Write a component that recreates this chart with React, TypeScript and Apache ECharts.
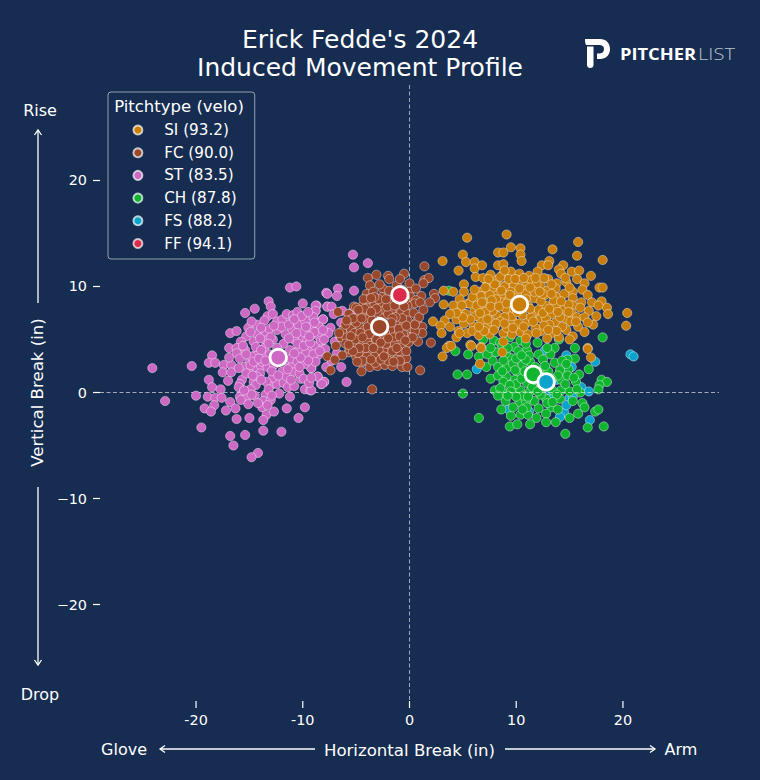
import React, { useEffect, useRef } from "react";
import * as echarts from "echarts";

type Pt = [number, number];

const BG = "#162c51";
const xTicks = [-20, -10, 0, 10, 20];
const yTicks = [-20, -10, 0, 10, 20];
const legendOrder = ["SI (93.2)", "FC (90.0)", "ST (83.5)", "CH (87.8)", "FS (88.2)", "FF (94.1)"];
const pitchColors = ["#c97f0a", "#9b472b", "#cd68c4", "#0fb52f", "#0aa3cc", "#dc2c4c"];
const pitchLayer = [5, 7, 6, 3, 2, 8];
const meanPoints: Pt[] = [[10.3, 8.3], [-2.8, 6.2], [-12.3, 3.3], [11.6, 1.7], [12.8, 1.0], [-0.9, 9.2]];

const siPoints: Pt[] = [
  [5.4,14.6],[9.1,14.9],[9.5,13.7],[10.4,13.6],[8.3,13.2],[8.8,13.2],[10.4,13],[10.5,12.4],[13.4,13.5],[15.8,14.2],[15.7,12.9],[18.1,12.5],
  [5,13],[3.1,12.4],[5.3,12.3],[4.6,11.5],[6.1,12.3],[6.1,11.7],[6.8,12],[8.3,12],[8.8,12.1],[12.4,12],[13.1,12.4],[13,12],[14.4,12],[14,11.6],
  [12,11.4],[15.2,11.4],[15.9,11.5],[14.2,11.2],[15.7,10.7],[17,11],[7.6,11.1],[8.8,11.2],[9.5,11.4],[10.3,11.2],[11.2,11],[6.2,10.9],[5.1,10.2],
  [10.2,10.6],[11.4,10.6],[13,10.7],[14.7,10.4],[16.4,10.3],[17.8,9.9],[18.1,9.9],[7.3,10.3],[8.3,9.9],[9,10.1],[9.8,10.1],[10.9,10],[12.3,10.1],
  [13.8,10.3],[13.7,9.8],[6.5,9.5],[7.4,9.5],[3.2,9.6],[4.1,9.5],[5.1,9.5],[15.3,9.5],[16.2,9.7],[10.6,9.7],[11.5,9.6],[15.3,8.9],[4.7,8.8],[6.3,8.9],
  [8,9.3],[8.7,8.9],[11.7,8.9],[12.7,9.2],[13.8,9],[16.7,9.2],[17.1,8.5],[18,8.6],[16.1,8.5],[15.3,8.2],[3.2,8.3],[5.5,8.4],[7.2,8.4],[8.6,8.5],
  [12.8,8.2],[14.4,7.8],[18.5,8],[16.8,7.7],[18.6,7.4],[20.4,7.5],[20.3,6.3],[4.1,8.2],[4.8,7.7],[6.1,7.8],[7.9,7.8],[9.2,7.6],[11.6,7.5],[13.3,7.4],
  [15.2,7.5],[2.2,6.7],[3.3,6.8],[6.7,6.8],[7.4,7.3],[9.7,6.7],[11,6.6],[12.3,7],[13.7,6.6],[14.7,6.9],[17.5,7.2],[17.2,6.4],[15.8,6.2],[2.9,6.3],
  [3.8,6.2],[6,6.2],[8,6.2],[10.4,5.7],[12.3,5.8],[14.7,5.9],[16.4,5.7],[3,5.6],[4.4,5.2],[4.6,5.8],[5.4,5.6],[7.2,6.1],[8.8,5.6],[13.3,5.6],[15.3,5.3],
  [15,5],[3.7,4.4],[5.7,4.5],[6.7,4.3],[8.8,4.8],[16.7,4.2],[5.8,4.4],[6.7,4.2],[8.7,3.8],[6.6,2.7],[16.7,4.1],[17,3.3],[4.7,5.6],[3.5,4.2],[3.1,3.4],[3.9,4.4],
  [7.8,9.9],[8.9,10],[9.5,9.5],[10.1,9.2],[10.9,9.3],[8.1,8.8],[9.3,8.7],[10.9,8.8],[11.1,8.2],[12.3,8.6],[12.9,9.6],[13.3,10.2],[14.5,9.3],[14.9,8.3],
  [13.7,8.2],[12.1,7.8],[9,7.9],[8.3,7.2],[9.6,7.2],[10.6,7.3],[12.8,6.9],[13.1,6.4],[10.2,6.5],[11.8,6.1],[9.1,6.1],[7.6,6.7],[6.2,7.2],[5.3,7.4],
  [5.6,8.4],[6.7,9.1],[7.8,7.7],[6.9,8],[8.2,10.6],[9.3,10.7],[11.9,10.2],[12.6,10.8],[14.1,7.1],[14.3,6.2],[15.1,6.7],[15.7,7.1],[16,8],[4.4,6.9],
  [5.1,6.5],[5.9,5.8],[6.5,5.4],[7.5,5.5],[9.6,5.5],[11.1,5.5],[12.9,5.1],[14,5.2],[8,10.2],[6.9,10.8],[7.5,9.2],[8.6,9.6],[10.5,8.1],[11.7,9.5],
  [12.5,9.3],[8.9,7.1],[7.1,7.6],[6.3,8.2],[5.9,9],[4.9,8.2],[7.7,8.7],[9.9,8.9],[11.4,7.1],[12.6,6.3],[13.9,7.6],[14.9,7.6],[16.4,7.1],[9.7,6.1],[8.5,6.7],[7,5.8],
  [7.4,10.7],[8.5,10.9],[9.9,10.7],[10.7,10.8],[11.8,10.8],[7.1,9.9],[6.1,9.7],[6.8,8.5],[7.6,8.1],[8.4,8.1],[9.1,8.4],[9.8,7.9],[10.1,7.6],[11.3,7.9],[12.5,7.5],
  [13.1,7.9],[13.5,8.7],[11.3,9.9],[12.2,9.5],[13.3,9.3],[14.2,8.6],[15,9.9],[14.6,10.8],[8.1,6.5],[8.9,6.5],[10.7,6.2],[11.6,6.7],[11.9,5.6],[7.9,5.9],[6.5,6.2],
  [5.7,6.9],[5,7.1],[4.4,7.5],[3.8,7.4],[6.6,7.5],[7.3,6.9],[10.9,5.1],[13,5.9],[13.8,5.8],[15.6,6.7],[16.7,6.6],[17.7,8.2],[9.4,9.2],[10.3,9.8],[8.9,11.5]
];

const fcPoints: Pt[] = [
  [-3.9,10.8],[-3.1,11.1],[-2,11],[-1.9,10.7],[-0.5,11.2],[-3.7,10.1],[0,10.3],[1.4,11.9],[1.4,10.6],[1.8,10.8],[1.3,10.3],[-4,9.3],[-3.4,9.5],
  [-2.5,9.8],[-1.2,10.1],[0,9.5],[1.1,9.1],[2.3,9.3],[2.4,8.9],[-2.6,9],[0.1,9],[0.6,8.7],[0.5,8.4],[-5.2,8.1],[-4.4,8.2],[-3.8,8.2],[-3.3,8.4],
  [-2.5,8.4],[-1.7,8.5],[-1,8],[-0.2,8.2],[-6.7,7.6],[-5.7,7.4],[-4.7,7.3],[-3.7,7.1],[-2.5,7.7],[-1.7,7.7],[-0.8,7.5],[-0.2,7.4],[-4.4,7.5],[-5.6,6.8],
  [-4.7,6.2],[-1.3,6.5],[-0.2,6.8],[0.7,6.7],[1.2,6.2],[-6.3,5.8],[-5.5,6],[-4.2,5.9],[-1.2,5.6],[0.1,6.1],[1.2,5.6],[-6.4,5.2],[-4.7,5.1],[-3.7,5],
  [-2.5,5.2],[-1.7,4.9],[-0.9,4.8],[-0.1,5.2],[0.8,4.8],[2,4.7],[-6.9,4.4],[-5.5,4.7],[-4.5,4.6],[-3,4.5],[-1.9,4.2],[-0.5,4.4],[-5.7,3.8],[-4.5,3.9],
  [-3.6,3.8],[-2.4,3.9],[-0.8,3.7],[-6.3,3.5],[-7.7,3.4],[-7,3.1],[-5,3.4],[-3,3.3],[-1.9,3.4],[-0.3,3.2],[-7.4,2.1],[-4.5,2.8],[-3.7,2.4],[-3,2.5],
  [-2.3,2.6],[-1.6,2.5],[-0.7,2.4],[-0.2,2.4],[-4.5,2],[1,2.1],[-3.5,0.3],
  [-5,6.6],[-4.1,6.9],[-3.3,6.4],[-2.1,6.2],[-1.8,5.9],[-2.6,7],[-3,7.6],[-3.4,5.4],[-4,4.9],[-5,4.4],[-5.2,5.6],[-3.9,6.2],[-0.6,6.2],[-0.7,7],[-1.3,7.1],
  [-2,7.4],[-2.3,5.6],[-1.4,4.5],[-2.9,4],[-3.3,3.4],[-4,3.4],[-4.8,3.7],[-2,3],[-1.2,3.1],[-3.7,4.4],[-1,3.9],[-5.9,5.2],[-6,6.4],[-5,8],[-3.9,8.8],
  [-2.9,8.8],[-1.5,9.4],[-0.4,8.8],[-1.1,8.7],[-3.3,9],[-4.2,7.9],[-2.1,8.1],[-0.6,5.5],[0.5,5.8],[-0.1,4.7],[0.4,7.5],[0.9,7.1],[-0.3,3.9],[-5.6,4.1],
  [-6,4.6],[-4.4,3],[-3.2,2.8],[-2.7,3.1],[-1.6,3.9],[-5.3,7],[-3.5,6.8],[-2.8,5.8],[-1.5,5.2],[-4.6,5.6],[-3.1,5],[-2.2,4.6],[-1,6],[0.3,5.2],[-5.1,5],[-4.1,4.2],[-1.4,8.2],[-3.1,7.9],
  [-4.8,7.8],[-3.6,7.6],[-2.2,8.8],[-1.9,9.6],[-0.7,9.7],[0.6,9.8],[-0.5,8.1],[-1.6,7],[-2.9,6.6],[-3.8,5.5],[-4.4,5.2],[-5.5,5.3],[-5.9,6.8],[-4.5,7],[-2.6,6.4],[-1.7,6.6],
  [-0.3,6.3],[0.5,6.4],[-0.9,5.3],[-2,5.1],[-2.7,4.7],[-3.4,4.2],[-4.7,4.2],[-5.3,3.9],[-1.2,4.2],[-0.4,4.9],[-2.4,3.4],[-3.6,3.1],[-0.9,3],[-1.5,2.9],[-4.9,2.9],[-5.7,4.5],
  [-6.6,5.6],[-4.3,8.8],[-3.6,8.9],[-2.8,10.2],[-0.9,10.7],[1,8.5],[1.3,7.8],[1.9,8.5]
];

const stPoints: Pt[] = [
  [-11.2,9.9],[-10.6,10],[-13.2,8.6],[-13,8.1],[-10,8.4],[-15.4,7.5],[-14.5,7.9],[-13.3,7.2],[-12.8,7.4],[-12.4,6.7],[-11.9,6.9],[-11.5,7.4],[-10.9,7.3],
  [-10.5,7.6],[-11,6.7],[-8.7,8.2],[-8.8,7.7],[-9,7.1],[-8.1,6.9],[-8.5,6.2],[-7.8,9.4],[-7.7,8.1],[-15.1,6.1],[-14.3,6.4],[-16.8,5.6],[-16.2,5.8],[-15.3,5.3],
  [-14.3,5.5],[-13.5,5.6],[-13.1,6],[-12.8,5],[-15.8,4.8],[-14.6,4.8],[-13.5,4.9],[-16.9,4.2],[-16.2,4.2],[-15.4,4],[-16.2,3.7],[-13.6,4.2],[-14.3,3.7],
  [-13.7,3.5],[-15,3],[-18.5,3.5],[-18.8,2.8],[-18.2,2.8],[-17.4,2.6],[-16.7,2.6],[-15.5,2.4],[-14.5,2.2],[-13.9,2.5],[-17.5,1.9],[-16.7,1.9],[-14,1.8],
  [-18.8,1.2],[-15.7,1.2],[-14.3,1.5],[-15,1.8],[-18.5,0.5],[-17.7,0.3],[-15.9,0.8],[-16,0.5],[-14.6,1],[-14.4,0.7],[-12.8,0.8],[-12.4,0.8],[-11.9,2],[-11,2.6],
  [-10.9,1.9],[-11.8,0.9],[-11.4,0.5],[-10.2,1.3],[-9.2,2.3],[-8.6,1.5],[-8,1],[-8.3,0.8],[-9.8,0.3],[-9.3,0.2],[-20,-0.3],[-18.9,-0.4],[-18.2,-0.5],[-17.6,-0.5],
  [-16.8,-0.9],[-15.9,-0.4],[-15.3,-0.6],[-14.5,-0.3],[-13.5,-0.2],[-12.2,-0.1],[-11.2,-0.4],[-13.7,-0.8],[-19.2,-1.5],[-18.3,-1.2],[-18.6,-1.8],[-17.2,-1.7],
  [-16.3,-1.5],[-13.8,-1.4],[-13.4,-2.1],[-12.7,-1.8],[-11.5,-1.5],[-9.8,-1.4],[-10.4,-2.4],[-16.2,-2.5],[-15,-2.4],[-13.7,-2.6],[-19.5,-3.3],[-13.7,-3.6],[-12,-3.7],
  [-16.8,-4.1],[-15.4,-4],[-16.5,-5],[-14.2,-5.7],[-14.8,-6.1],[-24.1,2.3],[-20.4,2.5],[-22.9,-0.8],
  [-5.3,13],[-5.2,11.8],[-3.9,12.2],[-7.7,9.3],[-6.7,9.8],[-6.8,9.1],[-5.2,9.6],[-8.8,8.2],[-7.7,8.1],[-7.3,8.1],[-8.8,7.7],[-9,7.1],[-8.1,6.9],[-7.1,7.4],[-5.5,7.5],
  [-6.4,6.6],[-8.5,6.2],[-7.4,6.1],[-9.2,6.2],[-7.6,5.6],[-9.1,5.5],[-8.5,5.3],[-8.4,4.5],[-9.4,4.3],[-8.6,3.5],[-9.2,3.4],[-9.2,2.3],[-6.4,2.4],[-7.8,2.4],[-8.6,1.5],
  [-8,1],[-8.2,0.8],[-5.9,1],[-9.2,0.2],
  [-13,5.2],[-12.4,5.9],[-11.6,5.5],[-11,6],[-10.4,6.4],[-9.8,6.8],[-9.3,6.1],[-8.9,5.7],[-10.1,5.2],[-10.8,5],[-9.6,4.9],[-8.9,4.4],[-11.8,4.6],[-12.4,4.2],[-11.2,4],
  [-10.4,4],[-9.7,3.7],[-9,3.6],[-13.1,3.6],[-14.8,3.4],[-14.4,4.3],[-13.8,2.9],[-13.3,2.4],[-12.7,2.6],[-11.7,3],[-11.1,3.2],[-10.5,2.9],[-9.8,2.7],[-8.8,2.9],[-10.3,1.8],
  [-9.9,1.3],[-11.5,1.5],[-12.8,1.4],[-13.4,1],[-15.3,1.8],[-14.9,2.6],[-15.9,3.2],[-17,1.1],[-13,-0.7],[-14.9,0.3],[-14.2,-1],[-15.8,-0.7],[-10.8,0.6],[-9.4,0.9],[-12,6.2],
  [-13.6,6.8],[-14.8,6.7],[-10.1,7.2],[-9.5,7.6],[-9.9,5.7],[-8.3,4.9],[-7.9,4.1],[-7.3,3],[-6.8,3.7],[-7,4.8],[-6.5,5.3],[-6.3,7.7],
  [-14,5.1],[-13.2,4.6],[-13.9,4],[-14.6,2.9],[-14.1,3.2],[-13.5,3],[-12.9,2],[-12.3,1.6],[-13.9,1.2],[-14.7,1.6],[-15.3,3.6],[-15.6,4.4],[-14.9,5.7],[-13.9,6.1],[-12.7,6.3],
  [-11.3,5.1],[-10.5,4.6],[-9.9,4.4],[-9.3,4.7],[-9.4,5.3],[-10.6,5.6],[-11.3,6.4],[-10.8,6.9],[-9.7,6.2],[-8.9,6.6],[-8.1,5.9],[-8,5],[-8.4,3.9],[-9.5,3],[-10.2,3.3],
  [-10.8,3.7],[-10.3,2.4],[-9.2,1.4],[-11.1,1.2],[-12.4,3],[-11.4,2.2],[-16,2.3],[-16.9,3.3],[-13.3,-1.2],[-15.1,-1.1],[-14.8,-0.2],[-15.5,0.2],[-13.2,0.3],[-12.9,-0.3]
];

const chPoints: Pt[] = [
  [4.5,1.7],[5.4,1.7],[5,-0.1],[6.5,-2.4],[5.5,3.6],[6.5,3.4],[7.2,2.4],[7.6,1.3],[7.9,4.9],[8.5,4.7],[6.9,5],[9.4,5.2],[10.4,4.9],[9.8,4.3],[11,4],[12,4.7],[13.6,4.2],
  [14,5],[15.5,4.2],[15.5,3.2],[14.8,3.1],[8.1,3.8],[9.4,3.3],[10.2,3.9],[7.8,3],[8.3,2.4],[9.1,2.3],[9.7,2.7],[11.3,2.9],[12.1,3.6],[12.5,3.1],[13.6,2.8],[14.9,2.2],[14.1,2.1],
  [16.8,2.2],[15.9,1.7],[8.3,1.6],[9.1,1.5],[10.2,1.9],[8.8,1],[11,0.9],[14.2,1.2],[15.6,1],[18.1,5.2],[18,1.2],[18.5,1],[17.8,0.7],[17.7,0.3],[8.8,0],[9.6,0.2],[10.4,0.2],
  [11.3,0.1],[12.2,0.4],[13.1,0.7],[14.2,0.2],[15,0.1],[16,0],[9,-0.8],[10.3,-0.9],[11.7,-0.8],[12.8,-0.6],[14.1,-0.6],[8.6,-1.6],[10.9,-0.8],[12.1,-1.5],[13.3,-1.4],[13.9,-1.6],
  [16.2,-1],[16.4,-1.4],[17.4,-1.8],[17.7,-1.6],[9.5,-2.2],[10.4,-2.1],[11.1,-2.1],[12.8,-2],[11.9,-2.4],[15,-2.4],[15.8,-2],[9.4,-3.2],[10.1,-3],[11.3,-3],[12.8,-2.8],[13.7,-2.8],
  [16.7,-3.3],[18.2,-3.2],[14.6,-3.9],[9.9,1.2],[10.6,2.6],[10,3.2],[9,3.7],[12.4,2],[13,2],[13.9,1.6],[14.6,0.8],[13.4,0.2],[10.7,-0.3],[12.3,-0.2],[11.5,0.5],[10,0.8],[9.4,0.7],
  [13.2,3.6],[11.2,3.5],[8.8,3],[12.9,-1],[11,-1.4],[9.7,-1.4],[15.3,-0.8],[14.8,1.6],[10.5,1.3],[8,0.2],[3.7,9.6],[6.9,8.9],[7,8.3],[9,9.2],[11.9,9.7],[4.3,3.9],
  [10.9,3.1],[11.8,2.4],[12.7,2.5],[13.3,1.3],[14.3,3],[12.5,0.9],[11.7,1.2],[10.8,2],[8.7,2],[9.5,0.1],[10,-0.4],[11.1,-0.4],[12,0.1],[13.8,-0.2],[15.7,0.3],[9.2,-0.3],
  [8.5,0.4],[9.9,2.1],[7.3,3.6],[7.6,4.2],[8.7,4.4],[10.9,4.6],[12.9,4.2],[14.7,2.7],[15.4,1.4],[13.4,-0.9],[10.6,-1.6],[8.3,-0.3],[9.2,4.2],[10.5,3.5]
];

const fsPoints: Pt[] = [
  [6.3,2.2],[20.7,3.6],[21,3.4],[10.6,3.4],[14.7,3.5],[17.4,2.9],[15.2,2.4],[16.1,0.5],[16.8,0.1],[9.5,0.8],[13.3,-0.4],[15,-0.5],[9.3,-1.6],[11.2,-1.8],[14.5,-1.9],
  [14.1,-2.3],[16.9,-2.6],[12.7,4],[15.3,-0.4],[14.7,-1.2],[13.1,0.2],[10,1],[13.8,1.2],[11.3,1.5]
];

const ffPoints: Pt[] = [[-0.9, 9.2]];

const pitchPoints = [siPoints, fcPoints, stPoints, chPoints, fsPoints, ffPoints];

const P_MARK =
  "M0 0 L15 0 C21 0 25 4 25 10 C25 16 21 20 15 20 L12 20 L12 14.5 L14 14.5 C17 14.5 19 13 19 10 C19 7 17 6 14 6 L1.5 6 C0.5 6 0 3 0 0 Z M2 7.5 L8.5 7.5 L8.5 26 C8.5 28 7 29 5.2 29 C3.4 29 2 28 2 26 Z";
echarts.graphic.registerShape("pitcherLogo", echarts.graphic.extendPath(P_MARK as any, {}) as any);

const FONT = "DejaVu Sans";
const X_MIN = -29;
const arrowStyle = { stroke: "#ffffff", lineWidth: 1.3, fill: "none" };
const label = (text: string, x: number, y: number) => ({
  type: "text", x, y,
  style: { text, fill: "#ffffff", font: `16px '${FONT}'`, textAlign: "center", textVerticalAlign: "middle" },
});
const hArrow = (x1: number, x2: number, y: number) => {
  const d = x2 > x1 ? -5 : 5;
  return [
    { type: "line", shape: { x1, y1: y, x2, y2: y }, style: arrowStyle },
    { type: "polyline", shape: { points: [[x2 + d, y - 3.5], [x2, y], [x2 + d, y + 3.5]] }, style: arrowStyle },
  ];
};
const vArrow = (x: number, y1: number, y2: number) => {
  const d = y2 > y1 ? -5 : 5;
  return [
    { type: "line", shape: { x1: x, y1, x2: x, y2 }, style: arrowStyle },
    { type: "polyline", shape: { points: [[x - 3.5, y2 + d], [x, y2], [x + 3.5, y2 + d]] }, style: arrowStyle },
  ];
};

export default function App() {
  const ref = useRef<HTMLDivElement>(null);
  useEffect(() => {
    document.body.style.margin = "0";
    const chart = echarts.init(ref.current!, undefined, { renderer: "svg" });
    const pointStyle = { borderColor: "rgba(255,255,255,0.7)", borderWidth: 0.6, opacity: 1 };
    const series: any[] = legendOrder.map((name, i) => ({
      type: "scatter", name, data: pitchPoints[i], symbol: "circle", symbolSize: 9.2, z: pitchLayer[i], silent: true,
      itemStyle: { color: pitchColors[i], ...pointStyle },
    }));
    series.push({
      type: "scatter", name: "Break zero lines", data: [], z: 1, silent: true,
      markLine: {
        silent: true, symbol: "none", label: { show: false }, animation: false,
        lineStyle: { color: "rgba(255,255,255,0.6)", type: [4, 2.5], width: 1 },
        data: [{ xAxis: 0 }, { yAxis: 0 }],
      },
    });
    series.push({
      type: "scatter", name: "Means", symbol: "circle", symbolSize: 16.4, z: 20, silent: true,
      data: [0, 1, 2, 3, 5, 4].map((i) => ({
        value: meanPoints[i],
        itemStyle: { color: pitchColors[i], borderColor: "#ffffff", borderWidth: 2.8, opacity: 1 },
      })),
    });
    series.push({
      type: "custom", name: "Horizontal ticks", coordinateSystem: "cartesian2d", clip: false, silent: true, z: 4,
      data: xTicks.map((v) => [v, X_MIN]),
      encode: { x: 0, y: 1 },
      renderItem: (_p: any, api: any) => {
        const c = api.coord([api.value(0), api.value(1)]);
        return { type: "line", shape: { x1: c[0], y1: c[1] + 1, x2: c[0], y2: c[1] + 8 }, style: { stroke: "#ffffff", lineWidth: 1.2 } };
      },
    });
    chart.setOption({
      animation: false,
      backgroundColor: BG,
      textStyle: { fontFamily: FONT },
      title: {
        text: "Erick Fedde's 2024\nInduced Movement Profile",
        left: 355, top: 20, textAlign: "center",
        textStyle: { color: "#ffffff", fontSize: 25, fontWeight: "normal", fontFamily: FONT, lineHeight: 28 },
      },
      grid: { left: 100, right: 41, top: 85, bottom: 80 },
      xAxis: {
        type: "value", position: "bottom", min: -29, max: 29, splitLine: { show: false },
        axisLine: { show: false, onZero: false },
        axisTick: { show: false },
        axisLabel: { color: "#ffffff", fontSize: 14.4, margin: 13, customValues: xTicks, fontFamily: FONT, formatter: (v: number) => String(v) },
        name: "Horizontal Break (in)", nameLocation: "middle", nameGap: 42,
        nameTextStyle: { color: "#ffffff", fontSize: 16.6, fontFamily: FONT },
      },
      yAxis: {
        type: "value", position: "left", min: -29, max: 29, splitLine: { show: false },
        axisLine: { show: false, onZero: false },
        axisTick: { show: true, inside: false, length: 7, lineStyle: { color: "#ffffff", width: 1.2 }, customValues: yTicks },
        axisLabel: { color: "#ffffff", fontSize: 14.4, margin: 13, customValues: yTicks, fontFamily: FONT, formatter: (v: number) => (v < 0 ? `\u2212${-v}` : String(v)) },
        name: "Vertical Break (in)", nameLocation: "middle", nameGap: 54, nameRotate: 90,
        nameTextStyle: { color: "#ffffff", fontSize: 16.6, fontFamily: FONT },
      },
      legend: {
        show: true, data: legendOrder, orient: "vertical", left: 108, top: 92,
        padding: [29.5, 18, 7, 24.4], itemWidth: 42.6, itemHeight: 9, itemGap: 5.7, icon: "circle",
        selectedMode: false, borderColor: "rgba(255,255,255,0.55)", borderWidth: 1, borderRadius: 3,
        textStyle: { color: "#ffffff", fontSize: 15.2, lineHeight: 17, fontFamily: FONT },
      },
      graphic: [
        { type: "text", x: 179, y: 106, z: 50, style: { text: "Pitchtype (velo)", fill: "#ffffff", font: `16.5px '${FONT}'`, textAlign: "center", textVerticalAlign: "middle" } },
        label("Rise", 40, 110), label("Drop", 40, 694), label("Glove", 124, 749), label("Arm", 681, 749),
        ...vArrow(38, 303, 130), ...vArrow(38, 487, 665),
        ...hArrow(315, 160, 749), ...hArrow(505, 655, 749),
        { type: "pitcherLogo", x: 585, y: 39, style: { fill: "#ffffff" } },
        { type: "text", x: 620, y: 54, scaleX: 1.18, style: { text: "PITCHER", fill: "#ffffff", font: "bold 15.5px 'Open Sans'", textAlign: "left", textVerticalAlign: "middle" } },
        { type: "text", x: 698, y: 54, scaleX: 1.3, style: { text: "LIST", fill: "#b9c1cc", font: "300 15.5px 'Open Sans'", textAlign: "left", textVerticalAlign: "middle" } },
      ],
      series,
    });
    return () => chart.dispose();
  }, []);
  return <div ref={ref} style={{ position: "absolute", left: 0, top: 0, width: 760, height: 780 }} />;
}
